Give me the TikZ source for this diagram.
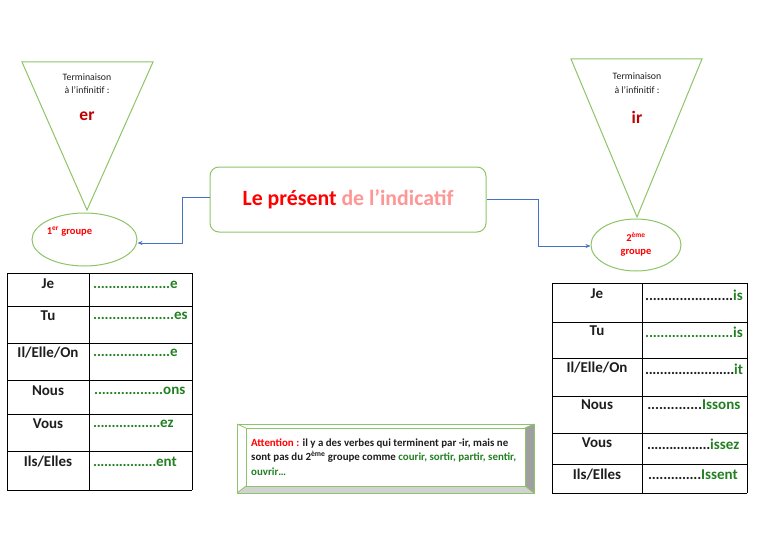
\documentclass[tikz,border=0pt]{standalone}
\usepackage{fontspec}
\setmainfont{Carlito}
\usetikzlibrary{shapes.geometric,arrows.meta}
\definecolor{lgreen}{RGB}{141,196,104}
\definecolor{tgreen}{RGB}{34,128,34}
\definecolor{dred}{RGB}{192,0,0}
\definecolor{pinkt}{RGB}{255,150,150}
\definecolor{bluec}{RGB}{68,114,196}
\definecolor{txt}{RGB}{30,30,30}
\newcommand{\dotsrow}[3]{{\color{#3}\xleaders\hbox to 3.7pt{\hss.\hss}\hskip #1pt}{\color{tgreen}#2}}
\tikzset{
  tri/.style={draw=lgreen,line width=1pt},
  smalltxt/.style={font=\fontsize{9.8}{10}\selectfont,text=txt,inner sep=0pt},
  endtxt/.style={font=\bfseries\fontsize{17.5}{18}\selectfont,text=dred,inner sep=0pt},
  grp/.style={ellipse,draw=lgreen,line width=1pt,inner sep=0pt},
  grptxt/.style={font=\bfseries\fontsize{10.5}{12}\selectfont,text=red,inner sep=0pt,align=center},
  conn/.style={draw=bluec,line width=0.8pt,-{Stealth[length=5pt,width=4pt]}},
  tline/.style={draw=black,line width=0.8pt},
  pron/.style={font=\bfseries\fontsize{15}{16}\selectfont,text=txt,inner sep=0pt},
  ending/.style={font=\bfseries\fontsize{15}{16}\selectfont,inner sep=0pt,anchor=west},
  att/.style={font=\bfseries\fontsize{10.9}{14.5}\selectfont,text=txt,inner sep=0pt,anchor=north west,align=left}
}
\begin{document}
\begin{tikzpicture}[x=1pt,y=-1pt]
\useasboundingbox (0,0) rectangle (768,543);
% left triangle
\draw[tri] (22,62) -- (153,62) -- (87,210) -- cycle;
\node[smalltxt] (t1a) at (87,77) {Terminaison};
\node[smalltxt] (t1b) at (87,90) {à l’infinitif :};
\node[endtxt] (t1c) at (87,116) {er};
% right triangle
\draw[tri] (571,59) -- (702,59) -- (637,217) -- cycle;
\node[smalltxt] (t2a) at (637,76) {Terminaison};
\node[smalltxt] (t2b) at (637,90) {à l’infinitif :};
\node[endtxt] (t2c) at (637,117) {ir};
% ellipses
\node[grp,minimum width=105pt,minimum height=53pt] (g1) at (84.5,239.5) {};
\node[grptxt] (g1t) at (69.5,232) {1\textsuperscript{er} groupe};
\node[grp,minimum width=90pt,minimum height=52pt] (g2) at (636,245) {};
\node[grptxt] (g2t) at (636,244.5) {2\textsuperscript{ème}\\[0.5pt]groupe};
% title
\node[draw=lgreen,line width=1pt,rounded corners=9pt,minimum width=276pt,minimum height=65pt,
      font=\bfseries\fontsize{21.8}{22}\selectfont] (title) at (348,199.5)
      {\textcolor{red}{Le présent} \textcolor{pinkt}{de l’indicatif}};
% connectors
\coordinate (c1) at (182,197);
\coordinate (c2) at (538,199);
\draw[conn] (title.west |- c1) -- (c1) |- (g1.east |- 0,243) ;
\draw[conn] (title.east |- c2) -- (c2) |- (g2.west |- 0,246);
% left table
\foreach \y in {273,306,343,380,414,451,490} \draw[tline] (7,\y) -- (192,\y);
\draw[tline] (7,273) -- (7,490);
\draw[tline] (89,273) -- (89,490);
\draw[tline] (192,273) -- (192,490);
\node[pron] (lp1) at (48,284) {Je};
\node[pron] (lp2) at (48,316) {Tu};
\node[pron] (lp3) at (48,353) {Il/Elle/On};
\node[pron] (lp4) at (48,391) {Nous};
\node[pron] (lp5) at (48,424) {Vous};
\node[pron] (lp6) at (48,462) {Ils/Elles};
\node[ending] (le1) at (93,285) {\dotsrow{77}{e}{tgreen}};
\node[ending] (le2) at (93,316) {\dotsrow{81}{es}{tgreen}};
\node[ending] (le3) at (93,353) {\dotsrow{77}{e}{tgreen}};
\node[ending] (le4) at (94,391) {\dotsrow{69}{ons}{tgreen}};
\node[ending] (le5) at (93,424) {\dotsrow{67}{ez}{tgreen}};
\node[ending] (le6) at (93,462) {\dotsrow{63}{ent}{tgreen}};
% right table
\foreach \y in {283,322,358,396,433,464,493} \draw[tline] (552,\y) -- (747,\y);
\draw[tline] (552,283) -- (552,493);
\draw[tline] (642,283) -- (642,493);
\draw[tline] (747,283) -- (747,493);
\node[pron] (rp1) at (597,294) {Je};
\node[pron] (rp2) at (597,331) {Tu};
\node[pron] (rp3) at (597,368) {Il/Elle/On};
\node[pron] (rp4) at (597,405) {Nous};
\node[pron] (rp5) at (597,443) {Vous};
\node[pron] (rp6) at (597,475) {Ils/Elles};
\node[ending] (re1) at (645,295) {\dotsrow{88}{is}{txt}};
\node[ending] (re2) at (645,332) {\dotsrow{88}{is}{tgreen}};
\node[ending] (re3) at (645,369) {\dotsrow{89}{it}{txt}};
\node[ending] (re4) at (647,405) {\dotsrow{55}{Issons}{txt}};
\node[ending] (re5) at (647,444) {\dotsrow{63}{issez}{txt}};
\node[ending] (re6) at (648,475) {\dotsrow{53}{Issent}{txt}};
% attention bevel box
\fill[white] (237,424) rectangle (534,493);
\fill[gray!75] (534,424) -- (534,493) -- (525,486) -- (525,428) -- cycle;
\fill[gray!35] (237,493) -- (534,493) -- (525,486) -- (246,486) -- cycle;
\draw[draw=lgreen,line width=1pt] (237,424) rectangle (534,493);
\draw[draw=lgreen,line width=1pt] (246,428) rectangle (525,486);
\draw[draw=lgreen,line width=0.8pt] (237,424) -- (246,428) (534,424) -- (525,428) (237,493) -- (246,486) (534,493) -- (525,486);
\node[att] (attn) at (251,438.5) {\textcolor{red}{Attention :} il y a des verbes qui terminent par -ir, mais ne\\
sont pas du 2\textsuperscript{ème} groupe comme \textcolor{tgreen}{courir, sortir, partir, sentir,}\\
\textcolor{tgreen}{ouvrir…}};
\end{tikzpicture}
\end{document}
